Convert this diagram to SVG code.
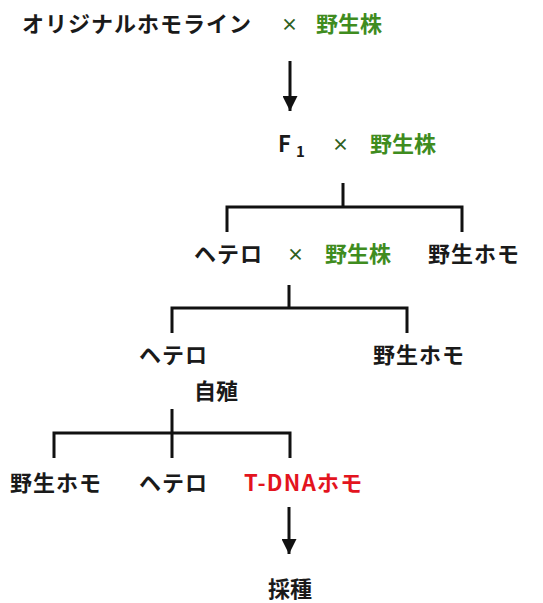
<svg xmlns="http://www.w3.org/2000/svg" width="543" height="603" viewBox="0 0 543 603">
<style>
text{font-family:"Noto Sans CJK JP","Noto Sans",sans-serif;font-size:22px;font-weight:bold;fill:#1a1a1a}
.k{letter-spacing:1px}
.g{fill:#3f8c1f}
.x{fill:#2f5f1f;font-size:17px}
.r{fill:#e3141e;letter-spacing:1.3px}
.ln{stroke:#111;stroke-width:3;fill:none}
</style>
<defs>
<marker id="ah" markerWidth="5" markerHeight="5" refX="5" refY="2.5" orient="auto" markerUnits="strokeWidth">
<path d="M0,0 L5,2.5 L0,5 Z" fill="#111"/>
</marker>
</defs>
<g id="connectors">
<line class="ln" x1="290" y1="61" x2="290" y2="111" marker-end="url(#ah)"/>
<path class="ln" d="M343,183 V207 M227,232 V207 H462 V232"/>
<path class="ln" d="M289,285 V308 M172,333 V308 H407 V333"/>
<path class="ln" d="M172,409 V458 M54,458 V433 H290 V458"/>
<line class="ln" x1="289" y1="507" x2="289" y2="554" marker-end="url(#ah)"/>
</g>
<g id="n1"><text class="k" x="22" y="32">オリジナルホモライン</text><text class="x" x="281" y="31">×</text><text class="g" x="316" y="32">野生株</text></g>
<g id="n2"><text x="278" y="152">F</text><text x="296" y="157" style="font-size:15px">1</text><text class="x" x="332" y="151">×</text><text class="g" x="370" y="152">野生株</text></g>
<g id="n3"><text class="k" x="194" y="262">ヘテロ</text><text class="x" x="287" y="261">×</text><text class="g" x="325" y="262">野生株</text></g>
<g id="n4"><text class="k" x="428" y="262">野生ホモ</text></g>
<g id="n5"><text class="k" x="139" y="363">ヘテロ</text><text x="194" y="399">自殖</text></g>
<g id="n6"><text class="k" x="373" y="363">野生ホモ</text></g>
<g id="n7"><text class="k" x="10" y="491">野生ホモ</text></g>
<g id="n8"><text class="k" x="139" y="491">ヘテロ</text></g>
<g id="n9"><text class="r" x="244" y="491">T-DNAホモ</text></g>
<g id="n10"><text x="268" y="597">採種</text></g>
</svg>
